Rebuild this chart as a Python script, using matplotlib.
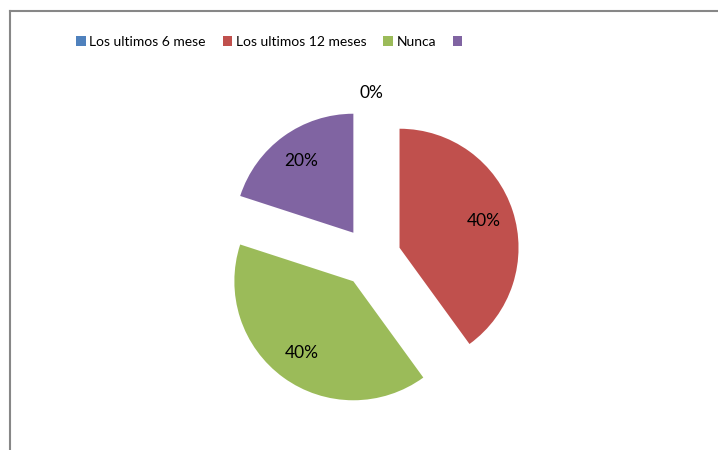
import matplotlib.pyplot as plt
from matplotlib.patches import Patch
from matplotlib.lines import Line2D

categorias = ['Los ultimos 6 mese', 'Los ultimos 12 meses', 'Nunca', '']
valores = [0, 40, 40, 20]
colores = ['#4F81BD', '#C0504D', '#9BBB59', '#8064A2']

plt.rcParams['font.family'] = ['Lato', 'DejaVu Sans']

fig = plt.figure(figsize=(7.18, 4.5), dpi=100)
ax = fig.add_axes([0, 0, 1, 1])
ax.set_xlim(0, 718)
ax.set_ylim(0, 450)
ax.set_aspect('equal')
ax.axis('off')

# marco gris del grafico (solo se ven el borde superior e izquierdo)
ax.add_line(Line2D([9.5, 9.5], [0, 439], color='#878787', lw=1.5))
ax.add_line(Line2D([9.5, 718], [439, 439], color='#878787', lw=1.5))

radio = 119
separa = [30, 30, 30, 30]
wedges, textos, pcts = ax.pie(valores, colors=colores, explode=separa,
                              radius=radio, center=(371, 193),
                              startangle=90, counterclock=False,
                              autopct='%1.0f%%', pctdistance=0.74,
                              wedgeprops=dict(linewidth=0),
                              textprops=dict(fontsize=12.5, color='black'))
ax.set_xlim(0, 718)
ax.set_ylim(0, 450)
# la etiqueta del 0% queda fuera del circulo
pcts[0].set_position((371, 193 + separa[0] + 1.13 * radio))

handles = [Patch(facecolor=c, edgecolor='none') for c in colores]
ax.legend(handles, categorias, ncol=4, loc='center',
          bbox_to_anchor=(271 / 718, 1 - 42 / 450), frameon=False,
          fontsize=10, handlelength=0.7, handleheight=0.7,
          handletextpad=0.25, columnspacing=1.2, borderaxespad=0)

fig.savefig('out.png', dpi=100)
